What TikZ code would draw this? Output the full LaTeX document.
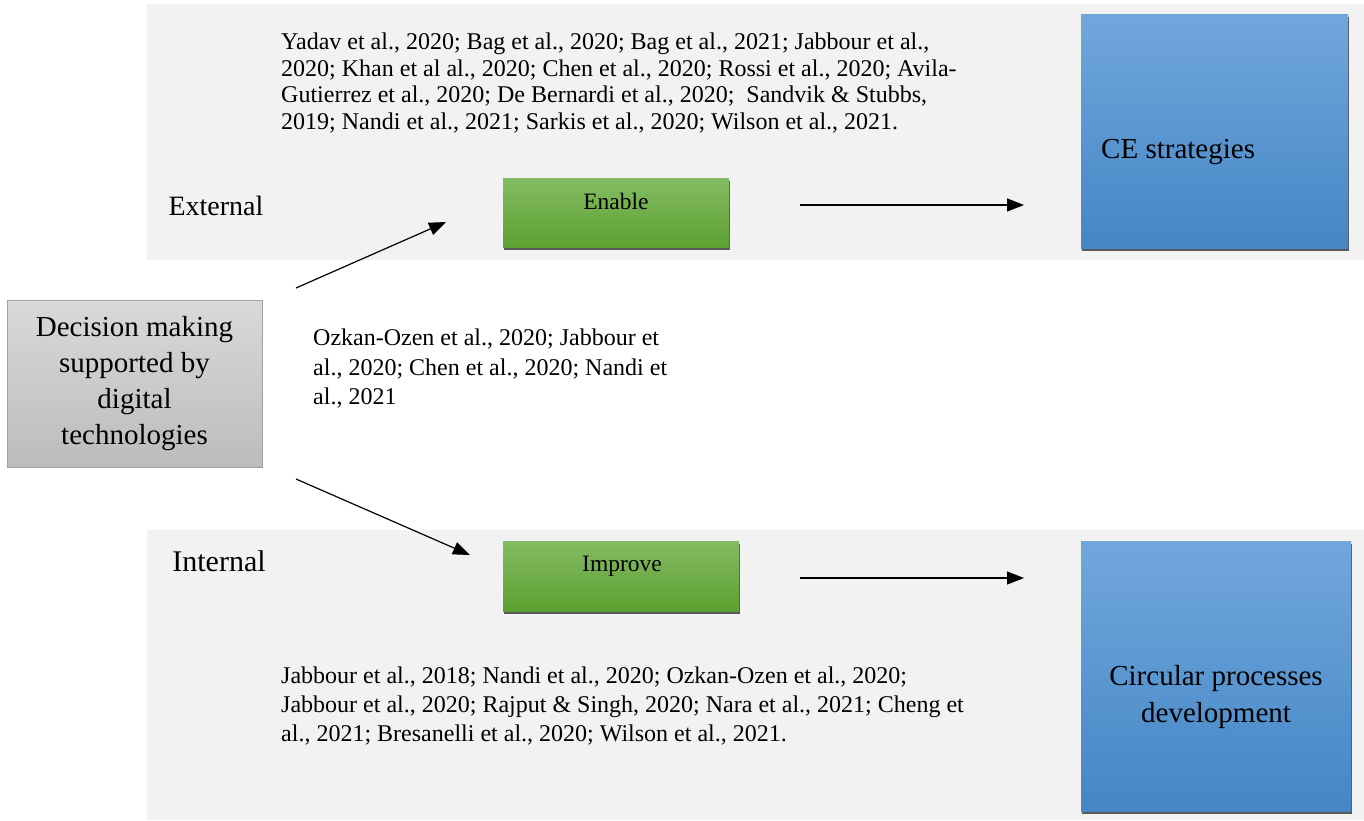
\documentclass[tikz,border=0pt]{standalone}
\usepackage{fontspec}
\setmainfont{Liberation Serif}
\usetikzlibrary{arrows.meta,shadows}
\definecolor{panelgray}{HTML}{F2F2F2}
\definecolor{bluetop}{HTML}{71A7DC}
\definecolor{bluebot}{HTML}{4486C6}
\definecolor{greentop}{HTML}{83BC63}
\definecolor{greenbot}{HTML}{5EA031}
\definecolor{graytop}{HTML}{D9D9D9}
\definecolor{graybot}{HTML}{BCBCBC}
\definecolor{grayborder}{HTML}{A0A0A0}
\definecolor{shadowgray}{HTML}{5A5A5A}
\begin{document}
\begin{tikzpicture}[x=1pt,y=-1pt,
  panel/.style={fill=panelgray, draw=none, inner sep=0, outer sep=0},
  boxshadow/.style={drop shadow={shadow xshift=1.2pt,shadow yshift=-3pt,fill=shadowgray,opacity=1}},
  bluebox/.style={top color=bluetop, bottom color=bluebot, draw=none, inner sep=0, boxshadow},
  greenbox/.style={top color=greentop, bottom color=greenbot, draw=none, inner sep=0, boxshadow},
  decbox/.style={top color=graytop, bottom color=graybot, draw=grayborder, line width=1pt, inner sep=0,
    font=\fontsize{29}{36}\selectfont, align=center},
  cite/.style={font=\fontsize{24}{26.5}\selectfont, align=left, inner sep=0, anchor=north west},
  citeb/.style={font=\fontsize{24}{29.3}\selectfont, align=left, inner sep=0, anchor=north west},
  side/.style={font=\fontsize{28}{32}\selectfont, inner sep=0},
  btn/.style={font=\fontsize{23.5}{27}\selectfont, inner sep=0},
  big/.style={font=\fontsize{29}{37}\selectfont, inner sep=0, align=center},
  arr/.style={-{Triangle[length=17pt,width=13pt]}, line width=1.2pt, draw=black}
]
\useasboundingbox (0,0) rectangle (1364,820);
\fill[white] (0,0) rectangle (1364,820);

% panels
\node[panel, minimum width=1217pt, minimum height=256pt] (topPanel) at (755.5,132) {};
\node[panel, minimum width=1217pt, minimum height=290pt] (botPanel) at (755.5,675) {};

% boxes
\node[decbox, minimum width=255pt, minimum height=167pt] (dec) at (134.5,383.5)
  {Decision making\\supported by\\digital\\technologies};
\node[greenbox, minimum width=226pt, minimum height=69pt] (enable) at (616,212.5) {};
\node[greenbox, minimum width=236pt, minimum height=70pt] (improve) at (621,576) {};
\node[bluebox, minimum width=267pt, minimum height=234pt] (ce) at (1214.5,131) {};
\node[bluebox, minimum width=270pt, minimum height=270pt] (circ) at (1216,676) {};

% box texts
\node[btn] (enableT) at (616,201) {Enable};
\node[btn] (improveT) at (622,566) {Improve};
\node[big, anchor=west] (ceT) at (1101,152) {CE strategies};
\node[big] (circT) at (1216,697) {Circular processes\\development};

% side labels
\node[side] (ext) at (216,206) {External};
\node[side, font=\fontsize{30}{34}\selectfont] (int) at (219,561) {Internal};

% citations
\node[cite] (citeTop) at (281,33)
  {Yadav et al., 2020; Bag et al., 2020; Bag et al., 2021; Jabbour et al.,\\
   2020; Khan et al al., 2020; Chen et al., 2020; Rossi et al., 2020; Avila-\\
   Gutierrez et al., 2020; De Bernardi et al., 2020;\ \ Sandvik \& Stubbs,\\
   2019; Nandi et al., 2021; Sarkis et al., 2020; Wilson et al., 2021.};
\node[citeb] (citeMid) at (313,329)
  {Ozkan-Ozen et al., 2020; Jabbour et\\
   al., 2020; Chen et al., 2020; Nandi et\\
   al., 2021};
\node[citeb, font=\fontsize{24}{29}\selectfont] (citeBot) at (281,667)
  {Jabbour et al., 2018; Nandi et al., 2020; Ozkan-Ozen et al., 2020;\\
   Jabbour et al., 2020; Rajput \& Singh, 2020; Nara et al., 2021; Cheng et\\
   al., 2021; Bresanelli et al., 2020; Wilson et al., 2021.};

% connectors
\coordinate (upS) at (296,288);
\coordinate (upE) at (446,222);
\coordinate (dnS) at (296,479);
\coordinate (dnE) at (470,555);
\coordinate (h1S) at (800,205);
\coordinate (h1E) at (1024,205);
\coordinate (h2S) at (800,578);
\coordinate (h2E) at (1024,578);
\draw[arr] (upS) -- (upE);
\draw[arr] (dnS) -- (dnE);
\draw[arr] (h1S) -- (h1E);
\draw[arr] (h2S) -- (h2E);
\end{tikzpicture}
\end{document}
